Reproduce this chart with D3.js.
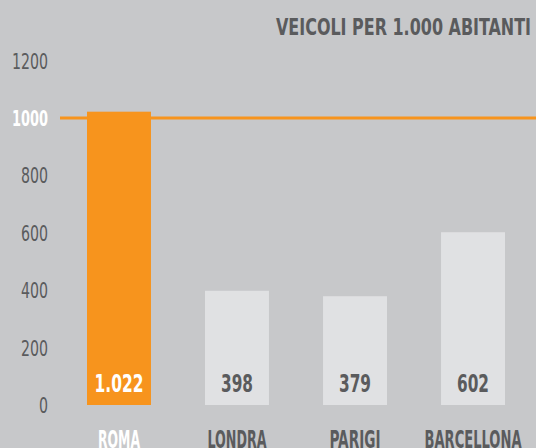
<!DOCTYPE html>
<html>
<head>
<meta charset="utf-8">
<script src="https://cdn.jsdelivr.net/npm/d3@7"></script>
<style>
  body { margin: 0; background: #c7c8ca; }
  svg { display: block; }
  text { font-family: "Liberation Sans Narrow", "DejaVu Sans Condensed", "Roboto", sans-serif; }
</style>
</head>
<body>
<div class="chart"></div>
<script>
var svgWidth = 536;
var svgHeight = 448;

// data
var cities = ["ROMA", "LONDRA", "PARIGI", "BARCELLONA"];
var vehicles = [1022, 398, 379, 602];
var valueLabels = ["1.022", "398", "379", "602"];
var yTicks = [0, 200, 400, 600, 800, 1000, 1200];
var refValue = 1000;
var title = "VEICOLI PER 1.000 ABITANTI";

var orange = "#f7941d";
var lightBar = "#e0e1e3";
var darkText = "#5a5b5d";

var svg = d3.select(".chart")
  .append("svg")
  .attr("width", svgWidth)
  .attr("height", svgHeight)
  .style("background", "#c7c8ca");

var x = d3.scaleBand()
  .domain(cities)
  .range([87, 505])
  .paddingInner(0.458)
  .paddingOuter(0);

var y = d3.scaleLinear()
  .domain([0, 1000])
  .range([405, 118]);

// title
svg.append("text")
  .attr("x", 531)
  .attr("y", 35)
  .attr("text-anchor", "end")
  .attr("font-size", 23)
  .attr("font-weight", "bold")
  .attr("fill", darkText)
  .attr("textLength", 255)
  .attr("lengthAdjust", "spacingAndGlyphs")
  .text(title);

// y tick labels
var tickWidths = { 0: 9, 200: 27, 400: 27, 600: 27, 800: 27, 1000: 36, 1200: 36 };
svg.selectAll(".ytick")
  .data(yTicks)
  .enter().append("text")
    .attr("class", "ytick")
    .attr("x", 48)
    .attr("y", function(d) { return y(d) + 8; })
    .attr("text-anchor", "end")
    .attr("font-size", 22)
    .attr("font-weight", function(d) { return d === refValue ? "bold" : "normal"; })
    .attr("fill", function(d) { return d === refValue ? "#ffffff" : darkText; })
    .attr("textLength", function(d) { return tickWidths[d]; })
    .attr("lengthAdjust", "spacingAndGlyphs")
    .text(function(d) { return d; });

// bars
svg.selectAll(".bar")
  .data(vehicles)
  .enter().append("rect")
    .attr("class", "bar")
    .attr("x", function(d, i) { return x(cities[i]); })
    .attr("y", function(d) { return y(d); })
    .attr("width", x.bandwidth())
    .attr("height", function(d) { return y(0) - y(d); })
    .attr("fill", function(d, i) { return i === 0 ? orange : lightBar; });

// reference line at 1000
svg.append("line")
  .attr("x1", 60)
  .attr("x2", svgWidth)
  .attr("y1", y(refValue))
  .attr("y2", y(refValue))
  .attr("stroke", orange)
  .attr("stroke-width", 3);

// value labels inside bars
var valueWidths = [49, 32, 32, 32];
svg.selectAll(".val")
  .data(valueLabels)
  .enter().append("text")
    .attr("class", "val")
    .attr("x", function(d, i) { return x(cities[i]) + x.bandwidth() / 2; })
    .attr("y", 392)
    .attr("text-anchor", "middle")
    .attr("font-size", 25)
    .attr("font-weight", "bold")
    .attr("fill", function(d, i) { return i === 0 ? "#ffffff" : darkText; })
    .attr("textLength", function(d, i) { return valueWidths[i]; })
    .attr("lengthAdjust", "spacingAndGlyphs")
    .text(function(d) { return d; });

// category labels
var catWidths = [42, 59, 51, 97];
svg.selectAll(".cat")
  .data(cities)
  .enter().append("text")
    .attr("class", "cat")
    .attr("x", function(d) { return x(d) + x.bandwidth() / 2; })
    .attr("y", 448)
    .attr("text-anchor", "middle")
    .attr("font-size", 24)
    .attr("font-weight", "bold")
    .attr("fill", function(d, i) { return i === 0 ? "#ffffff" : darkText; })
    .attr("textLength", function(d, i) { return catWidths[i]; })
    .attr("lengthAdjust", "spacingAndGlyphs")
    .text(function(d) { return d; });
</script>
</body>
</html>
